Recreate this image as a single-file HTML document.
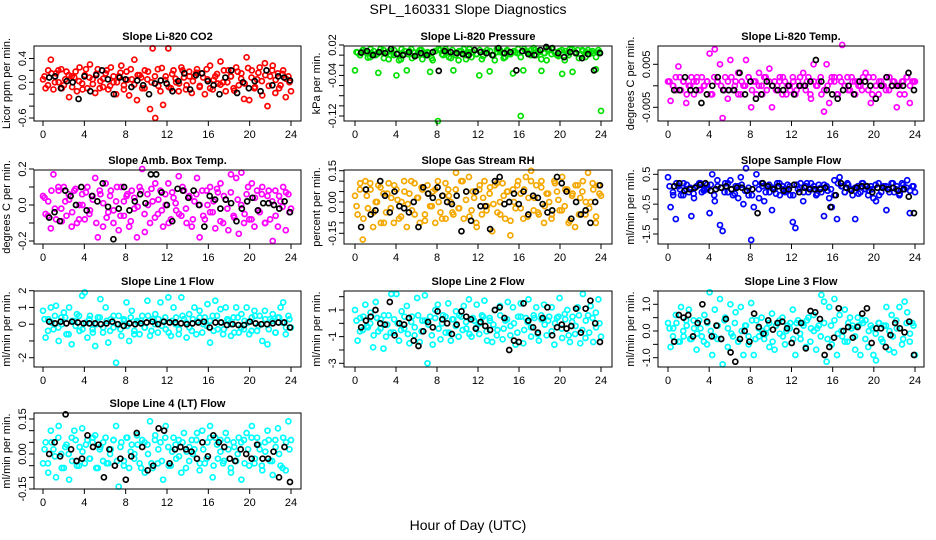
<!DOCTYPE html>
<html><head><meta charset="utf-8"><style>
html,body{margin:0;padding:0;background:#fff}
svg{display:block}
text{font-family:"Liberation Sans",sans-serif;fill:#000}
</style></head><body>
<svg id="chart" width="936" height="540" viewBox="0 0 936 540" xmlns="http://www.w3.org/2000/svg">
<text x="468" y="14" text-anchor="middle" font-size="14">SPL_160331  Slope Diagnostics</text>
<text x="468" y="530" text-anchor="middle" font-size="14">Hour of Day (UTC)</text>
</svg>
<script>
const xTicks = [0,4,8,12,16,20,24];
const titles = ["Slope Li-820 CO2","Slope Li-820 Pressure","Slope Li-820 Temp.","Slope Amb. Box Temp.","Slope Gas Stream RH","Slope Sample Flow","Slope Line 1 Flow","Slope Line 2 Flow","Slope Line 3 Flow","Slope Line 4 (LT) Flow"];
const yTitles = ["Licor ppm per min.","kPa per min.","degrees C per min.","degrees C per min.","percent per min.","ml/min per min.","ml/min per min.","ml/min per min.","ml/min per min.","ml/min per min."];
const yTickVals = [[-0.6,-0.4,-0.2,0,0.2,0.4],[-0.12,-0.1,-0.08,-0.06,-0.04,-0.02,0,0.02],[-0.005,0,0.005],[-0.2,-0.1,0,0.1,0.2],[-0.15,-0.1,-0.05,0,0.05,0.1,0.15],[-1.5,-1,-0.5,0,0.5],[-2,-1,0,1,2],[-3,-2,-1,0,1,2],[-1,-0.5,0,0.5,1,1.5],[-0.15,-0.1,-0.05,0,0.05,0.1,0.15]];
const yLabelVals = [[-0.6,0,0.4],[-0.12,-0.04,0.02],[-0.005,0.005],[-0.2,0,0.2],[-0.15,0,0.15],[-1.5,-0.5,0.5],[-2,0,1,2],[-3,-1,1],[-1,0,1],[-0.15,0,0.15]];
const yLabelText = [["-0.6","0.0","0.4"],["-0.12","-0.04","0.02"],["-0.005","0.005"],["-0.2","0.0","0.2"],["-0.15","0.00","0.15"],["-1.5","-0.5","0.5"],["-2","0","1","2"],["-3","-1","1"],["-1.0","0.0","1.0"],["-0.15","0.00","0.15"]];
const co2 = [0.05,-0.1,0.2,0.38,-0.12,0.15,0.0,0.22,-0.05,0.18,-0.25,0.1,0.08,-0.15,0.25,-0.02,0.12,-0.1,0.3,0.05,-0.18,0.22,0.02,-0.08,0.15,-0.12,0.25,0.0,-0.2,0.1,0.28,-0.05,0.18,-0.22,0.05,0.38,-0.3,0.12,-0.1,0.2,0.05,-0.45,0.57,-0.6,0.22,-0.15,-0.38,0.1,0.57,-0.1,0.2,0.0,-0.15,0.25,0.08,-0.05,0.18,-0.18,0.1,0.22,-0.08,0.15,-0.2,0.05,0.28,-0.12,0.1,-0.02,0.35,0.0,-0.15,0.2,0.1,-0.1,0.25,-0.05,0.15,-0.28,0.42,-0.3,0.2,-0.1,0.05,0.25,-0.22,0.32,-0.4,0.1,0.28,-0.18,0.15,-0.05,0.2,-0.25,0.1,-0.15];
const co2Band = [0.1,-0.05,0.15,0.0,0.2,-0.1,0.05,0.12,-0.08,0.18,0.02,-0.12,0.22,0.08,-0.03,0.14,-0.1,0.06,0.2,-0.06,0.1,0.0,0.16,-0.12,0.04,0.22,-0.04,0.12,0.08,-0.1,0.18,0.0,0.1,-0.06,0.24,0.04,-0.08,0.14,0.06,-0.02,0.2,-0.12,0.1,0.02,0.16,-0.06,0.08,0.22,-0.1,0.04,0.14,-0.04,0.2,0.0,0.1,-0.14,0.18,0.06,-0.02,0.24,0.08,-0.08,0.16,0.02,0.12,-0.06,0.2,0.04,-0.1,0.14,0.06,0.0];
const co2Ref = [0.08,0.1,-0.1,0.02,0,-0.28,0.1,-0.15,0.12,0.2,0.05,-0.2,0.08,0.05,-0.08,0.03,-0.05,-0.2,-0.02,0.03,-0.02,-0.15,0.02,0.15,-0.12,0.12,0.15,0.02,-0.05,-0.2,0.08,0.2,-0.18,0,-0.1,0.02,-0.15,0.2,-0.05,0.1,0.08,0.03];
const pres = [-0.03,0.005,0.0,0.01,0.008,-0.005,0.012,0.002,0.0,-0.035,0.006,0.01,0.004,-0.008,0.008,0.0,-0.04,-0.01,0.012,0.002,-0.03,0.008,-0.006,0.005,0.0,0.01,-0.008,0.004,0.006,-0.033,-0.01,0.008,-0.13,0.01,0.0,0.012,0.006,-0.006,-0.03,0.005,-0.01,0.008,0.012,0.0,0.006,-0.004,0.01,0.002,-0.04,-0.008,0.006,0.01,-0.032,0.0,-0.01,0.006,0.01,0.004,-0.004,0.008,0.002,-0.036,0.006,0.012,-0.12,-0.03,0.008,0.004,0.01,0.014,0.0,0.006,-0.031,0.004,-0.01,0.01,0.012,0.006,0.0,0.008,-0.037,-0.01,0.004,0.012,-0.033,0.006,0.01,0.002,0.008,-0.004,0.01,0.006,0.004,-0.028,0.01,-0.11];
const presBand = [0.006,0.0,0.01,0.004,-0.004,0.008,0.002,0.012,-0.006,0.006,0.0,0.01,0.004,-0.008,0.008,0.002,0.012,-0.002,0.006,0.01,0.0,0.004,-0.006,0.008,0.012,0.002,0.006,-0.004,0.01,0.0,0.008,0.004,-0.008,0.012,0.006,0.002,0.01,-0.002,0.004,0.008,0.0,0.012,0.006,-0.006,0.01,0.002,0.008,0.004,-0.004,0.012,0.006,0.0,0.01,0.008,-0.008,0.004,0.012,0.002,0.006,-0.002,0.01,0.008,0.0,0.012,0.004,-0.006,0.01,0.006,0.002,0.008,-0.004,0.006];
const presRef = [0.005,0.008,0.0,0.006,0.004,0.012,0.002,0.0,0.006,-0.002,0.004,0.0,0.006,-0.031,0.008,0.006,0.004,0.002,0.0,0.01,0.006,0.004,0.0,0.014,0.004,0.006,-0.03,0.008,0.002,0.0,0.01,0.016,0.014,0.004,-0.004,0.006,0.004,-0.006,0.002,-0.03,0.004];
const temp = [0.001,-0.0035,0.0,0.002,0.0045,-0.001,0.001,-0.004,0.0,0.002,-0.002,0.001,-0.001,0.002,0.0,0.001,0.0075,-0.002,0.0085,0.001,0.005,-0.0075,0.002,-0.003,0.006,-0.001,0.001,0.003,-0.002,0.0,0.006,0.002,-0.005,0.001,-0.002,0.003,0.0,0.002,-0.001,0.004,-0.005,0.001,0.0,0.002,-0.002,0.001,0.0,-0.001,0.002,-0.002,0.001,0.0,0.003,-0.001,0.002,-0.003,0.005,0.0,0.001,-0.002,-0.006,0.005,-0.004,0.002,0.001,-0.002,0.002,0.0095,0.0,0.002,-0.001,0.001,-0.002,0.001,0.0,0.002,0.003,-0.001,-0.004,0.002,0.0,-0.002,0.001,0.0,0.002,-0.001,0.0,0.001,-0.005,0.0,0.001,-0.002,0.002,-0.004,0.001,0.001];
const tempBand = [0.001,0.0,-0.001,0.002,0.001,-0.002,0.0,0.001,0.002,-0.001,0.0,0.001,-0.002,0.002,0.001,0.0,-0.001,0.001,0.002,0.0,-0.002,0.001,0.0,0.002,-0.001,0.001,0.0,-0.002,0.002,0.001,0.0,-0.001,0.001,0.002,-0.002,0.0,0.001,-0.001,0.002,0.0,0.001,-0.002,0.001,0.0,0.002,-0.001,0.0,0.001,0.002,-0.002,0.001,0.0,-0.001,0.002,0.001,0.0,-0.001,0.001,0.002,-0.002,0.0,0.001,0.0,-0.001,0.002,0.001,0.0,-0.002,0.001,0.002,0.0,0.001];
const tempRef = [-0.001,-0.001,0.002,-0.001,-0.001,-0.004,-0.002,0.0,0.002,-0.001,-0.001,-0.001,0.003,-0.002,0.001,-0.003,-0.002,0.001,0.0,-0.001,-0.001,0.0,-0.002,0.0,0.0,0.001,0.006,0.001,-0.001,-0.002,-0.003,-0.001,0.0,-0.002,0.001,0.001,0.0,-0.003,0.0,0.002,0.0,0.0,0.0,0.003,-0.001];
const amb = [0.05,-0.05,0.02,-0.13,0.17,-0.08,0.08,-0.02,0.1,-0.06,0.03,-0.12,0.08,-0.1,0.0,0.06,-0.08,0.1,-0.03,0.05,0.15,-0.18,0.06,-0.12,0.12,-0.04,0.08,-0.1,0.02,-0.14,0.1,-0.06,0.05,-0.12,0.08,-0.02,-0.18,0.1,0.2,-0.15,0.06,-0.1,0.02,0.12,-0.05,0.08,-0.12,0.0,0.12,-0.08,0.04,-0.03,0.16,-0.06,0.08,-0.1,0.05,-0.12,0.02,0.15,-0.18,0.08,-0.08,0.0,0.1,-0.04,-0.13,0.07,0.12,-0.1,0.03,-0.14,0.17,-0.06,0.15,-0.16,0.18,-0.1,0.06,-0.08,0.12,-0.12,0.08,-0.04,0.1,-0.1,0.05,-0.08,-0.2,0.08,-0.12,0.02,0.1,-0.14,0.06,-0.02];
const ambBand = [0.04,-0.06,0.08,-0.02,0.1,-0.09,0.02,0.06,-0.04,0.09,-0.08,0.0,0.07,-0.05,0.03,-0.1,0.08,0.01,-0.07,0.05,-0.03,0.1,-0.06,0.02,0.06,-0.09,0.04,-0.01,0.08,-0.05,0.0,0.09,-0.07,0.03,-0.03,0.06,-0.1,0.07,0.01,-0.05,0.1,-0.02,0.04,-0.08,0.06,0.0,-0.06,0.08,-0.04,0.02,0.09,-0.09,0.05,-0.02,0.07,-0.07,0.03,0.0,-0.05,0.1,-0.08,0.04,-0.03,0.06,-0.1,0.08,0.02,-0.06,0.05,-0.01,0.07,-0.04];
const ambRef = [-0.07,-0.04,-0.09,0.08,0.05,0.0,0.1,-0.03,0.05,0.02,0.12,-0.01,-0.19,-0.02,0.1,-0.03,0.02,0.06,0.01,0.17,0.17,0.07,0.0,-0.09,0.09,0.08,0.04,0.08,0.0,-0.12,0.05,0.03,-0.02,0.03,0.01,-0.09,-0.02,0.02,0.04,-0.03,0.01,0.01,0.0,-0.02,0.02,-0.04];
const rh = [0.03,-0.06,0.09,-0.18,0.1,-0.03,0.06,-0.12,0.0,0.08,-0.1,0.04,-0.05,0.09,0.02,-0.1,0.06,-0.08,0.0,0.1,-0.12,0.04,-0.04,0.09,0.02,-0.1,0.06,-0.06,0.08,-0.02,0.05,-0.1,0.1,-0.05,0.03,-0.08,0.06,0.0,-0.06,0.14,-0.03,0.1,-0.08,0.05,0.12,-0.04,0.02,-0.12,0.06,-0.06,0.1,-0.02,0.04,-0.14,0.08,-0.05,0.0,0.09,-0.08,0.05,-0.16,0.06,-0.03,0.1,0.04,-0.08,0.12,0.02,0.15,-0.04,0.08,-0.06,0.1,-0.1,0.04,0.0,-0.06,0.1,0.05,-0.04,0.12,-0.02,0.06,-0.09,0.04,-0.12,0.08,0.02,0.1,-0.06,0.14,0.0,0.06,-0.1,0.08,0.03];
const rhBand = [-0.02,0.06,-0.08,0.03,0.09,-0.05,0.0,0.07,-0.1,0.04,-0.03,0.08,0.01,-0.07,0.05,-0.01,0.1,-0.06,0.02,0.07,-0.09,0.04,-0.02,0.06,0.0,-0.08,0.09,0.03,-0.05,0.06,-0.03,0.1,0.01,-0.07,0.05,-0.1,0.08,0.02,-0.04,0.07,-0.01,0.09,-0.06,0.03,0.05,-0.09,0.0,0.08,-0.03,0.06,-0.07,0.1,0.02,-0.05,0.07,-0.02,0.04,-0.08,0.09,0.01,-0.04,0.06,-0.1,0.03,0.08,-0.06,0.05,0.0,-0.03,0.09,-0.07,0.04];
const rhRef = [-0.12,0.06,-0.06,-0.04,0.1,0.03,-0.05,0.05,-0.02,-0.03,-0.05,0.0,-0.12,0.07,0.04,0.02,0.07,0.03,0.0,-0.01,0.03,-0.14,0.05,-0.09,0.05,-0.02,-0.02,-0.13,0.1,0.12,-0.01,0.0,0.04,-0.01,0.05,-0.06,0.03,0.02,-0.01,-0.05,-0.04,0.12,0.09,0.05,-0.08,0.0,-0.06,-0.04,-0.1,0.0,0.08];
const sflow = [0.4,-0.6,-0.2,-1.0,0.1,-0.2,0.2,0.0,-0.1,-0.9,-0.3,0.1,0.2,-0.1,0.0,0.15,-0.8,0.5,-0.4,0.3,-1.2,-1.4,0.2,-0.1,0.3,-0.2,0.1,-0.3,0.4,-0.5,0.7,-0.2,-1.7,-0.6,0.5,-0.3,0.2,-0.4,0.1,-0.1,-0.7,0.0,0.2,-0.2,0.1,-0.1,0.15,-0.2,-1.1,-1.3,0.0,0.2,-0.4,0.1,-0.1,0.2,0.0,-0.2,0.15,-0.1,-0.9,0.1,-0.3,-0.6,0.3,-1.0,0.4,0.1,-0.1,0.2,0.0,-0.2,-1.0,0.1,-0.1,0.2,0.0,-0.2,0.1,-0.3,-0.4,0.2,-0.1,0.1,-0.7,0.0,0.2,-0.1,0.1,-0.2,0.2,0.0,0.3,-0.8,0.1,-0.1];
const sflowBand = [0.1,-0.1,0.2,0.0,-0.2,0.15,0.05,-0.15,0.1,0.2,-0.05,0.0,0.15,-0.2,0.1,0.05,-0.1,0.2,0.0,-0.15,0.1,0.15,-0.05,0.05,-0.2,0.2,0.0,0.1,-0.1,0.15,0.05,-0.15,0.2,0.0,-0.05,0.1,-0.2,0.15,0.05,-0.1,0.2,0.0,0.1,-0.15,0.05,0.15,-0.05,0.0,-0.2,0.2,0.1,-0.1,0.15,0.0,0.05,-0.15,0.2,0.1,-0.05,0.0,0.15,-0.2,0.05,0.1,-0.1,0.2,0.0,-0.15,0.15,0.05,-0.05,0.1];
const sflowRef = [0.1,0.2,-0.05,0.0,0.05,0.15,0.2,-0.05,0.0,0.05,0.1,0.0,0.05,0.05,-0.05,0.0,-0.8,0.2,0.1,0.0,0.1,-0.05,0.0,0.15,-0.1,0.05,0.0,0.0,0.0,0.05,-0.6,-0.2,0.2,0.05,-0.05,0.05,0.1,0.1,-0.1,0.05,0.05,0.0,0.05,-0.05,0.0,-0.25,-0.8];
const line1 = [0.8,-0.8,0.3,1.0,-0.3,1.1,-1.0,0.4,0.7,-0.6,1.0,-1.2,0.2,0.6,-0.4,1.7,1.9,-0.8,0.5,-0.3,-1.3,0.4,1.5,-0.5,1.0,-1.1,0.3,-0.2,-2.3,0.5,-0.7,0.2,1.3,-1.0,0.8,-0.4,0.2,-0.6,0.5,-0.2,1.4,-0.7,0.3,0.6,-0.5,1.3,0.2,-0.3,1.6,-0.7,1.0,0.4,-0.6,1.6,0.3,-0.8,0.6,-0.4,1.0,0.2,0.8,-0.5,0.4,1.2,-1.1,0.5,1.4,-0.3,0.9,-0.6,1.0,0.2,-0.7,0.4,1.0,-0.5,0.6,-0.3,1.0,-0.6,0.4,0.8,-0.4,0.5,-1.0,0.8,-1.2,0.3,0.6,-0.5,0.4,1.0,1.3,-0.6,0.5,-0.2];
const line1Band = [0.3,-0.4,0.1,0.5,-0.2,0.0,0.4,-0.6,0.2,-0.1,0.5,-0.3,0.1,0.3,-0.5,0.0,0.4,-0.2,0.2,-0.4,0.5,0.0,-0.3,0.3,-0.1,0.4,-0.6,0.1,0.2,-0.2,0.5,-0.4,0.0,0.3,-0.1,0.4,-0.5,0.2,0.0,-0.3,0.5,0.1,-0.2,0.3,-0.6,0.4,0.0,-0.1,0.2,-0.4,0.5,0.1,-0.3,0.3,0.0,-0.5,0.4,-0.2,0.2,0.1,-0.4,0.5,-0.1,0.0,0.3,-0.3,0.2,-0.5,0.4,0.1,-0.2,0.3];
const line1Ref = [0.15,0.05,0.15,0.05,0.15,0.1,0.05,0.05,0.05,0.0,0.05,0.15,0.0,-0.1,0.05,0.0,0.05,0.1,0.15,0.0,0.15,0.1,0.1,0.05,0.0,0.05,0.1,0.15,-0.2,0.1,0.1,-0.05,0.0,-0.05,-0.05,0.15,0.05,0.0,0.0,0.05,0.1,0.1,-0.2];
const line2 = [1.0,-1.3,0.4,-0.5,1.4,-0.3,0.8,-1.8,1.6,-0.6,0.3,-1.9,-1.0,0.6,2.2,-0.7,2.2,-1.3,0.9,-0.4,1.3,-1.5,0.5,-0.9,1.9,-1.4,0.2,2.1,-3.0,0.5,-1.6,1.0,1.4,-1.2,0.6,-0.7,1.5,-1.3,0.3,0.9,-1.0,0.5,1.3,-0.4,1.8,-1.0,0.2,1.4,-0.8,0.6,1.7,-1.3,0.4,-1.4,1.0,-0.5,1.3,-1.2,0.2,1.6,-0.9,1.2,-1.6,0.5,1.5,-1.5,0.4,1.8,-1.0,0.6,1.2,-1.3,0.3,1.4,-0.9,0.5,1.2,-1.6,0.4,1.9,-1.1,0.7,1.0,-1.4,0.5,-0.8,1.2,-1.5,2.2,-1.1,0.6,1.3,-1.4,0.8,1.8,-1.0];
const line2Band = [0.2,-0.6,0.5,-0.2,0.0,-0.9,0.4,-0.4,0.6,-0.1,-0.7,0.3,0.0,-0.5,0.5,-0.8,0.1,-0.3,0.6,-0.6,0.2,-0.1,-0.9,0.4,-0.4,0.0,0.5,-0.7,0.3,-0.2,0.6,-0.5,0.1,-0.8,0.4,-0.3,0.0,0.5,-0.6,0.2,-0.1,-0.9,0.6,-0.4,0.3,-0.2,0.0,-0.7,0.5,-0.5,0.1,-0.3,0.4,-0.8,0.6,-0.1,0.2,-0.6,0.0,0.5,-0.4,0.3,-0.9,0.1,-0.2,0.6,-0.5,0.2,-0.7,0.4,-0.3,0.0];
const line2Ref = [-0.3,0.2,0.5,1.0,0.0,-0.1,1.6,-0.9,0.0,-0.1,0.4,-1.3,-1.7,-0.6,0.1,-0.3,0.9,0.3,0.0,-0.8,-0.1,0.9,0.5,0.3,-0.4,0.1,-0.2,-0.5,1.0,1.2,0.4,-2.0,-1.3,-1.4,1.5,0.2,-0.3,-0.7,0.4,1.2,-0.9,-0.3,-0.1,-0.4,-0.2,1.1,-0.7,1.1,1.7,0.0,-1.4];
const line3 = [0.3,-0.6,0.1,0.6,-0.4,0.9,-0.2,0.4,0.8,-0.3,0.1,-0.7,0.4,-0.2,0.6,-0.5,1.45,-0.9,0.8,-0.3,1.2,-1.25,0.5,-0.6,1.0,-0.2,0.7,-0.4,0.9,-0.9,0.2,-0.5,1.05,-0.9,0.4,-0.2,0.5,-0.3,0.1,-0.6,0.65,-0.7,0.3,-0.1,0.5,-0.5,0.2,0.3,0.8,-0.9,0.4,-0.3,0.3,-0.6,0.5,0.1,0.6,-0.7,0.2,1.35,1.1,-1.15,0.9,-0.5,1.2,-0.9,0.6,-0.2,0.8,-0.4,0.5,0.2,-0.7,0.5,-0.9,0.3,0.4,-0.6,0.2,-0.9,-1.1,0.3,-0.3,0.2,0.9,-0.7,0.6,-0.8,0.1,0.9,-0.5,1.1,0.7,-0.4,0.3,-0.9];
const line3Band = [0.1,-0.2,0.3,-0.4,0.0,0.2,-0.3,0.4,-0.1,0.1,-0.4,0.3,0.0,-0.2,0.2,-0.3,0.4,0.1,-0.1,0.3,-0.4,0.0,0.2,-0.2,0.4,-0.3,0.1,0.0,-0.1,0.3,-0.4,0.2,0.4,-0.2,0.0,0.1,-0.3,0.3,-0.1,0.2,0.4,-0.4,0.0,0.1,-0.2,0.3,-0.3,0.2,0.4,-0.1,0.0,-0.4,0.3,0.1,-0.2,0.2,0.4,-0.3,0.0,0.1,-0.1,0.3,-0.4,0.2,0.0,-0.2,0.4,0.1,-0.3,0.3,-0.1,0.2];
const line3Ref = [-0.4,0.6,0.5,0.6,-0.2,0.3,1.0,0.35,-0.2,0.2,-0.3,0.45,-0.8,-1.15,-0.3,0.0,-0.4,0.65,0.15,-0.1,0.4,0.05,0.3,0.35,0.1,-0.45,0.0,0.3,-0.65,0.75,0.7,0.45,-0.9,-0.6,-0.25,0.85,0.0,0.15,-0.25,0.15,0.65,0.85,-0.45,0.1,0.1,-0.6,-0.15,0.3,0.1,-0.05,0.35,-0.9];
const line4 = [-0.04,0.05,-0.08,0.1,0.02,-0.1,0.12,0.0,-0.06,0.04,-0.11,0.07,0.1,-0.05,0.03,0.11,-0.04,0.06,-0.02,0.05,0.08,-0.06,0.03,-0.03,0.07,-0.04,0.02,0.06,0.12,-0.14,0.05,-0.03,0.07,-0.06,0.04,0.0,0.08,-0.04,0.06,-0.08,0.04,0.14,-0.06,0.08,-0.04,0.05,-0.11,0.12,0.03,-0.05,0.07,-0.02,0.06,-0.08,0.09,0.01,-0.03,0.06,0.02,0.09,-0.07,0.1,-0.04,0.05,0.12,-0.1,0.07,-0.02,0.06,-0.04,0.09,0.02,-0.08,0.05,-0.03,0.07,-0.11,0.06,0.09,-0.05,0.12,-0.04,0.07,0.02,-0.07,0.05,0.1,-0.03,-0.09,0.06,0.11,-0.05,0.07,-0.07,0.14,0.06];
const line4Band = [0.02,-0.04,0.05,-0.01,0.07,-0.06,0.03,0.0,-0.03,0.06,-0.05,0.01,0.04,-0.02,0.07,-0.06,0.02,0.05,-0.04,0.0,0.06,-0.03,0.03,-0.05,0.07,0.01,-0.02,0.04,-0.06,0.05,0.0,-0.04,0.06,0.02,-0.03,0.07,-0.05,0.01,0.04,-0.01,0.05,-0.06,0.03,0.0,0.06,-0.04,0.02,-0.02,0.07,-0.05,0.04,0.01,-0.03,0.06,-0.06,0.03,0.0,0.05,-0.04,0.02,0.07,-0.02,0.04,-0.05,0.01,0.06,-0.03,0.03,0.0,-0.06,0.05,0.02];
const line4Ref = [0.0,0.05,-0.01,0.17,0.02,-0.03,-0.02,0.08,0.03,0.04,-0.1,0.02,-0.05,-0.02,-0.11,-0.01,0.09,0.03,-0.07,-0.05,0.11,0.1,-0.04,0.02,0.03,0.02,0.01,-0.02,0.05,-0.01,0.08,0.05,0.03,-0.02,-0.03,0.02,0.0,-0.02,0.04,-0.02,-0.02,0.01,-0.1,0.03,-0.12];

const series = [co2,pres,temp,amb,rh,sflow,line1,line2,line3,line4];
const bandSeries = [co2Band,presBand,tempBand,ambBand,rhBand,sflowBand,line1Band,line2Band,line3Band,line4Band];
const refSeries = [co2Ref,presRef,tempRef,ambRef,rhRef,sflowRef,line1Ref,line2Ref,line3Ref,line4Ref];
const colors = ["#ff0000","#00e000","#ff00ff","#ff00ff","#f4a800","#0000ff","#00ffff","#00ffff","#00ffff","#00ffff"];
const cols = [{l:34,r:301,x0:43,x1:291},{l:344,r:612,x0:355,x1:601},{l:658,r:924,x0:668,x1:915}];
const rows = [{t:46,b:121},{t:170,b:244},{t:291,b:367},{t:413,b:489}];
const yCal = [[-0.6,118,0.4,58.5],[-0.12,116,0.02,45],[-0.005,107.3,0.005,64.3],[-0.2,241,0.2,169],[-0.15,233.3,0.15,170.7],[-1.5,234,0.5,174.3],[-2,357.7,2,290.7],[-3,363.3,1,310],[-1,357.7,1,304.3],[-0.15,489,0.15,419]];

const svg = document.getElementById('chart');
const NS = 'http://www.w3.org/2000/svg';
function mk(tag, attrs, parent){const e=document.createElementNS(NS,tag);for(const k in attrs)e.setAttribute(k,attrs[k]);(parent||svg).appendChild(e);return e;}

for(let p=0;p<10;p++){
  const c=cols[p%3], r=rows[Math.floor(p/3)];
  const g=mk('g',{});
  
  
  const xs=h=>c.x0+(c.x1-c.x0)*h/24;
  const cal=yCal[p];
  const ys=v=>cal[1]+(v-cal[0])*(cal[3]-cal[1])/(cal[2]-cal[0]);
  const cx=(c.l+c.r)/2;
  const t=mk('text',{x:cx,y:r.t-6,'text-anchor':'middle','font-size':'11','font-weight':'bold'},g);
  t.textContent=titles[p];
  
  
  const band=bandSeries[p];
  band.forEach((v,i)=>{
    const pt=mk('circle',{cx:xs(0.15+i*23.7/(band.length-1)),cy:ys(v),r:2.5,fill:'none',stroke:colors[p],'stroke-width':1.7},g);
    
    
  });
  const arr=series[p];
  arr.forEach((v,i)=>{
    const pt=mk('circle',{cx:xs(i*24/(arr.length-1)),cy:ys(v),r:2.5,fill:'none',stroke:colors[p],'stroke-width':1.7},g);
    
    
  });
  const ref=refSeries[p];
  ref.forEach((v,i)=>{
    const pt=mk('circle',{cx:xs(0.6+i*23.3/(ref.length-1)),cy:ys(v),r:2.5,fill:'none',stroke:'#000','stroke-width':1.7},g);
    
    
  });
  const box=mk('rect',{x:c.l,y:r.t,width:c.r-c.l,height:r.b-r.t,fill:'none',stroke:'#000','stroke-width':1},g);
  
  
  xTicks.forEach(h=>{
    mk('line',{x1:xs(h),x2:xs(h),y1:r.b,y2:r.b+5,stroke:'#000'},g);
    const tl=mk('text',{x:xs(h),y:r.b+17,'text-anchor':'middle','font-size':'11'},g);
    tl.textContent=h;
    
    
  });
  yTickVals[p].forEach(v=>{mk('line',{x1:c.l-5,x2:c.l,y1:ys(v),y2:ys(v),stroke:'#000'},g);});
  yLabelVals[p].forEach((v,k)=>{
    const yl=mk('text',{x:c.l-8,y:ys(v),'text-anchor':'middle','font-size':'11',transform:`rotate(-90 ${c.l-8} ${ys(v)})`},g);
    yl.textContent=yLabelText[p][k];
    
    
  });
  const ym=(r.t+r.b)/2, yx=c.l-24;
  const yt=mk('text',{x:yx,y:ym,'text-anchor':'middle','font-size':'11',transform:`rotate(-90 ${yx} ${ym})`},g);
  yt.textContent=yTitles[p];
  
  
}
</script>
</body></html>
